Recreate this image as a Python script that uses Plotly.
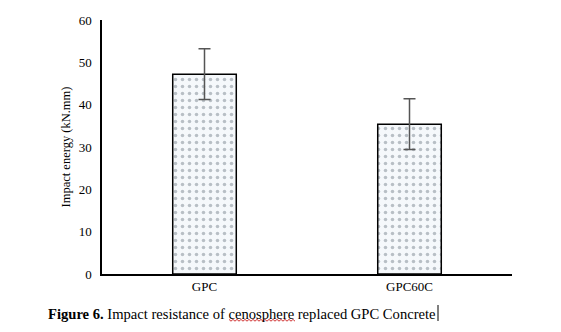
import plotly.graph_objects as go

categories = ["GPC", "GPC60C"]
impact_energy = [47.2, 35.4]
error_values = [6.0, 6.0]
y_ticks = [0, 10, 20, 30, 40, 50, 60]

# plot area in pixels (for decoration positions)
L, R, T, B = 102, 49, 20, 58
W, H = 561, 332
pw, ph = W - L - R, H - T - B

def px(x):
    return (x - L) / pw

def py(y):
    return (H - B - y) / ph

fig = go.Figure()
fig.add_trace(go.Bar(
    x=categories,
    y=impact_energy,
    width=0.31,
    marker=dict(
        color="#f5f8fb",
        line=dict(color="black", width=1.5),
        pattern=dict(shape=".", fgcolor="#7c8690", bgcolor="#f5f8fb", size=7, solidity=0.2),
    ),
    error_y=dict(type="data", array=error_values, visible=True,
                 color="#555555", thickness=1.5, width=6),
))

serif = "Liberation Serif, Times New Roman, serif"
fig.update_layout(
    width=W, height=H,
    margin=dict(l=L, r=R, t=T, b=B),
    paper_bgcolor="white", plot_bgcolor="white",
    showlegend=False,
    font=dict(family=serif, size=13, color="black"),
    xaxis=dict(range=[-0.5, 1.5], showline=True, linecolor="black", linewidth=1.5,
               ticks="", showgrid=False, tickfont=dict(size=13, family=serif)),
    yaxis=dict(range=[0, 60], tickvals=y_ticks, showline=True, linecolor="black",
               linewidth=1.5, ticks="", showgrid=False, zeroline=False,
               tickfont=dict(size=13, family=serif), ticklabelstandoff=6,
               title=dict(text="Impact energy (kN.mm)", font=dict(size=12.5, family=serif), standoff=5)),
)
fig.add_annotation(
    xref="paper", yref="paper", x=px(46), y=py(304), xanchor="left", yanchor="top",
    text="<b>Figure 6.</b> Impact resistance of cenosphere replaced GPC Concrete",
    showarrow=False, font=dict(size=14.6, family=serif, color="black"),
)
# spell-check squiggle under "cenosphere"
pts = []
x0, x1, yb = 229, 295, 320
n = int((x1 - x0) / 2)
for i in range(n + 1):
    xx = x0 + i * 2
    yy = yb + (1.2 if i % 2 else -0.6)
    pts.append(f"{px(xx):.5f},{py(yy):.5f}")
fig.add_shape(type="path", xref="paper", yref="paper",
              path="M" + " L".join(pts), line=dict(color="#d03030", width=1))
# text cursor
fig.add_shape(type="line", xref="paper", yref="paper",
              x0=px(438), x1=px(438), y0=py(305), y1=py(321),
              line=dict(color="black", width=1))
fig.write_html("out.html")
